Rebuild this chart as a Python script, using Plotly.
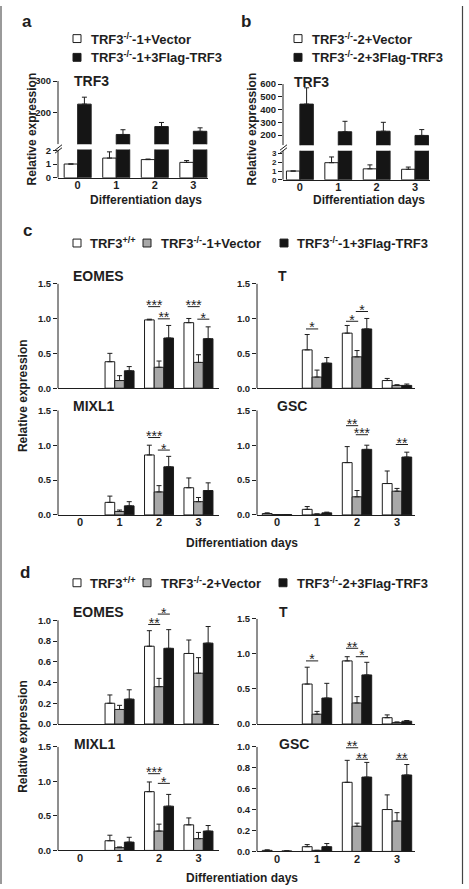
import plotly.graph_objects as go

W, H = 469, 889
FONT = "Liberation Sans"
INK = "#1e1e1e"
GRAY = "#a8a8a8"
BLACK = "#151515"

days = [0, 1, 2, 3]
day_labels = ["0", "1", "2", "3"]

# ---------------- panel a (TRF3, clone 1) ----------------
a_vector = [1.0, 1.43, 1.32, 1.12]
a_vector_err = [0.0, 0.45, 0.04, 0.13]
a_flag = [227, 131, 156, 141]
a_flag_err = [22, 15, 13, 11]

# ---------------- panel b (TRF3, clone 2) ----------------
b_vector = [1.0, 1.95, 1.25, 1.2]
b_vector_err = [0.0, 0.65, 0.45, 0.25]
b_flag = [443, 226, 230, 197]
b_flag_err = [128, 82, 70, 46]

# ---------------- panel c (clone 1) ----------------
c_eomes_wt = [None, 0.38, 0.98, 0.94]
c_eomes_wt_err = [0, 0.12, 0.01, 0.06]
c_eomes_vec = [None, 0.11, 0.30, 0.37]
c_eomes_vec_err = [0, 0.07, 0.09, 0.11]
c_eomes_flag = [None, 0.25, 0.72, 0.71]
c_eomes_flag_err = [0, 0.06, 0.18, 0.17]
c_eomes_sig = [(2, 0, "***", 1.17), (2, 1, "**", 0.995), (3, 0, "***", 1.17), (3, 1, "*", 0.99)]

c_t_wt = [None, 0.55, 0.79, 0.11]
c_t_wt_err = [0, 0.22, 0.11, 0.03]
c_t_vec = [None, 0.16, 0.45, 0.04]
c_t_vec_err = [0, 0.10, 0.09, 0.01]
c_t_flag = [None, 0.36, 0.85, 0.04]
c_t_flag_err = [0, 0.08, 0.15, 0.02]
c_t_sig = [(1, 0, "*", 0.85), (2, 0, "*", 0.96), (2, 1, "*", 1.10)]

c_mixl1_wt = [None, 0.18, 0.86, 0.39]
c_mixl1_wt_err = [0, 0.09, 0.14, 0.14]
c_mixl1_vec = [None, 0.05, 0.33, 0.19]
c_mixl1_vec_err = [0, 0.02, 0.09, 0.06]
c_mixl1_flag = [None, 0.13, 0.69, 0.35]
c_mixl1_flag_err = [0, 0.06, 0.15, 0.11]
c_mixl1_sig = [(2, 0, "***", 1.11), (2, 1, "*", 0.93)]

c_gsc_wt = [0.02, 0.08, 0.75, 0.45]
c_gsc_wt_err = [0.01, 0.04, 0.23, 0.18]
c_gsc_vec = [0.005, 0.01, 0.26, 0.34]
c_gsc_vec_err = [0, 0.005, 0.09, 0.04]
c_gsc_flag = [0.005, 0.03, 0.94, 0.83]
c_gsc_flag_err = [0, 0.01, 0.06, 0.07]
c_gsc_sig = [(2, 0, "**", 1.28), (2, 1, "***", 1.15), (3, 1, "**", 1.01)]

# ---------------- panel d (clone 2) ----------------
d_eomes_wt = [None, 0.20, 0.75, 0.68]
d_eomes_wt_err = [0, 0.08, 0.15, 0.13]
d_eomes_vec = [None, 0.14, 0.36, 0.49]
d_eomes_vec_err = [0, 0.04, 0.08, 0.15]
d_eomes_flag = [None, 0.24, 0.73, 0.78]
d_eomes_flag_err = [0, 0.09, 0.18, 0.16]
d_eomes_sig = [(2, 0, "**", 0.96), (2, 1, "*", 1.06)]

d_t_wt = [None, 0.57, 0.90, 0.09]
d_t_wt_err = [0, 0.24, 0.06, 0.04]
d_t_vec = [None, 0.14, 0.30, 0.02]
d_t_vec_err = [0, 0.04, 0.09, 0.01]
d_t_flag = [None, 0.37, 0.70, 0.04]
d_t_flag_err = [0, 0.21, 0.18, 0.01]
d_t_sig = [(1, 0, "*", 0.90), (2, 0, "**", 1.08), (2, 1, "*", 0.96)]

d_mixl1_wt = [None, 0.14, 0.85, 0.37]
d_mixl1_wt_err = [0, 0.08, 0.14, 0.10]
d_mixl1_vec = [None, 0.04, 0.28, 0.17]
d_mixl1_vec_err = [0, 0.01, 0.10, 0.09]
d_mixl1_flag = [None, 0.12, 0.64, 0.28]
d_mixl1_flag_err = [0, 0.07, 0.17, 0.08]
d_mixl1_sig = [(2, 0, "***", 1.11), (2, 1, "*", 0.97)]

d_gsc_wt = [0.01, 0.045, 0.66, 0.40]
d_gsc_wt_err = [0.005, 0.02, 0.21, 0.14]
d_gsc_vec = [None, 0.01, 0.24, 0.29]
d_gsc_vec_err = [0, 0, 0.03, 0.08]
d_gsc_flag = [0.005, 0.045, 0.71, 0.73]
d_gsc_flag_err = [0, 0.03, 0.14, 0.10]
d_gsc_sig = [(2, 0, "**", 0.99), (2, 1, "**", 0.88), (3, 1, "**", 0.88)]

legend_a = ["TRF3<sup>-/-</sup>-1+Vector", "TRF3<sup>-/-</sup>-1+3Flag-TRF3"]
legend_b = ["TRF3<sup>-/-</sup>-2+Vector", "TRF3<sup>-/-</sup>-2+3Flag-TRF3"]
legend_c = ["TRF3<sup>+/+</sup>", "TRF3<sup>-/-</sup>-1+Vector", "TRF3<sup>-/-</sup>-1+3Flag-TRF3"]
legend_d = ["TRF3<sup>+/+</sup>", "TRF3<sup>-/-</sup>-2+Vector", "TRF3<sup>-/-</sup>-2+3Flag-TRF3"]
gene_titles = ["EOMES", "T", "MIXL1", "GSC"]
x_title = "Differentiation days"
y_title = "Relative expression"

# ---------------------------------------------------------------
fig = go.Figure()
layout = {}
shapes = []
annotations = []


def ids(n):
    return ("x" if n == 1 else f"x{n}"), ("y" if n == 1 else f"y{n}")


def add_axes(n, xl, xr, xrange, zero_px, ppu, yr, ytop, tickvals, tickfmt,
             xvisible=True, xlabels=False, yfont=9.5):
    xid, yid = ids(n)
    top_px = zero_px - (yr[1] - yr[0]) * ppu
    layout["xaxis" if n == 1 else f"xaxis{n}"] = dict(
        domain=[xl / W, xr / W], range=xrange, anchor=yid, visible=xvisible,
        showline=True, linecolor=INK, linewidth=1, ticks="", showgrid=False,
        zeroline=False, tickmode="array", tickvals=days, ticktext=day_labels,
        showticklabels=xlabels, fixedrange=True, ticklabelstandoff=-3,
        tickfont=dict(family=FONT, size=11, color=INK, weight="bold"))
    layout["yaxis" if n == 1 else f"yaxis{n}"] = dict(
        domain=[1 - zero_px / H, 1 - top_px / H], range=yr, anchor=xid,
        showline=False, ticks="outside", ticklen=4, tickwidth=1, tickcolor=INK,
        tickmode="array", tickvals=tickvals, tickformat=tickfmt,
        showgrid=False, zeroline=False, fixedrange=True,
        tickfont=dict(family=FONT, size=yfont, color=INK, weight="bold"))
    shapes.append(dict(type="line", xref=f"{xid} domain", yref=yid, x0=0, x1=0,
                       y0=yr[0], y1=ytop, line=dict(color=INK, width=1)))


def add_bar(n, vals, errs, color, width, offset):
    xid, yid = ids(n)
    fig.add_trace(go.Bar(
        x=days, y=vals, width=width, offset=offset, xaxis=xid, yaxis=yid,
        marker=dict(color=color, line=dict(color=INK, width=1)),
        error_y=dict(type="data", symmetric=False, array=errs,
                     arrayminus=[0] * len(errs), color=INK, thickness=1, width=2.5),
        showlegend=False, hoverinfo="skip"))


def add_sig(n, marks, w):
    xid, yid = ids(n)
    centers = [-w, 0, w]
    for day, pair, label, h in marks:
        x0 = day + centers[pair] - 0.03
        x1 = day + centers[pair + 1] + 0.03
        fig.add_trace(go.Scatter(x=[x0, x1], y=[h, h], mode="lines", xaxis=xid, yaxis=yid,
                                 line=dict(color=INK, width=1), cliponaxis=False,
                                 showlegend=False, hoverinfo="skip"))
        fig.add_trace(go.Scatter(x=[(x0 + x1) / 2], y=[h], mode="text", text=[label],
                                 textposition="middle center", xaxis=xid, yaxis=yid,
                                 textfont=dict(family=FONT, size=14, color=INK),
                                 cliponaxis=False, showlegend=False, hoverinfo="skip"))


def text(x, y, s, size, anchor="left", angle=0, bold=True):
    annotations.append(dict(xref="paper", yref="paper", x=x / W, y=1 - y / H, text=s,
                            showarrow=False, xanchor=anchor, yanchor="middle", textangle=angle,
                            font=dict(family=FONT, size=size, color=INK,
                                      weight="bold" if bold else "normal")))


def legend(items, y):
    for sx, tx, color, label in items:
        shapes.append(dict(type="rect", xref="paper", yref="paper", x0=sx / W, x1=(sx + 8) / W,
                           y0=1 - (y + 4) / H, y1=1 - (y - 4) / H, fillcolor=color,
                           line=dict(color=INK, width=1)))
        text(tx, y, label, 13)


def pxline(x0, y0, x1, y1, color=INK, width=1):
    shapes.append(dict(type="line", xref="paper", yref="paper", x0=x0 / W, x1=x1 / W,
                       y0=1 - y0 / H, y1=1 - y1 / H, line=dict(color=color, width=width)))


# ---------------- panels a & b (broken axes) ----------------
w2 = 0.35
add_axes(1, 58, 208, [-0.51, 3.38], 140, 0.32, [100, 300], 300, [200, 300], "d", xvisible=False)
add_axes(2, 58, 208, [-0.51, 3.38], 174, 14, [0, 2.05], 2.05, [0, 1, 2], "d", xlabels=True)
add_axes(3, 283, 430, [-0.44, 3.39], 141, 0.129, [120, 600], 600, [200, 300, 400, 500, 600], "d", xvisible=False)
add_axes(4, 283, 430, [-0.44, 3.39], 176, 8.9, [0, 3.3], 3.3, [0, 1, 2, 3], "d", xlabels=True, yfont=8)
for n in (1, 2):
    add_bar(n, a_vector, a_vector_err, "white", w2, -w2)
    add_bar(n, a_flag, a_flag_err, BLACK, w2, 0)
for n in (3, 4):
    add_bar(n, b_vector, b_vector_err, "white", w2, -w2)
    add_bar(n, b_flag, b_flag_err, BLACK, w2, 0)

# axis break marks
for bx in (58, 283):
    pxline(bx - 3, 146, bx + 4, 140.5)
    pxline(bx - 3, 149, bx + 4, 143.5)

# ---------------- panels c & d ----------------
w3 = 0.245
LX, RX = (58, 219, [-0.56, 3.52]), (257, 415, [-0.5, 3.45])
tick15 = [0, 0.5, 1.0, 1.5]
tick10 = [0, 0.2, 0.4, 0.6, 0.8, 1.0]
grid = [
    (5, LX, 387, 70.6, [0, 1.5], 1.5, tick15, False,
     (c_eomes_wt, c_eomes_wt_err, c_eomes_vec, c_eomes_vec_err, c_eomes_flag, c_eomes_flag_err), c_eomes_sig),
    (6, RX, 387, 70.6, [0, 1.5], 1.5, tick15, False,
     (c_t_wt, c_t_wt_err, c_t_vec, c_t_vec_err, c_t_flag, c_t_flag_err), c_t_sig),
    (7, LX, 515.3, 70.6, [0, 1.5], 1.5, tick15, True,
     (c_mixl1_wt, c_mixl1_wt_err, c_mixl1_vec, c_mixl1_vec_err, c_mixl1_flag, c_mixl1_flag_err), c_mixl1_sig),
    (8, RX, 515.3, 70.6, [0, 1.5], 1.5, tick15, True,
     (c_gsc_wt, c_gsc_wt_err, c_gsc_vec, c_gsc_vec_err, c_gsc_flag, c_gsc_flag_err), c_gsc_sig),
    (9, LX, 727, 105, [0, 1.1], 1.0, tick10, False,
     (d_eomes_wt, d_eomes_wt_err, d_eomes_vec, d_eomes_vec_err, d_eomes_flag, d_eomes_flag_err), d_eomes_sig),
    (10, RX, 727, 71, [0, 1.5], 1.5, tick15, False,
     (d_t_wt, d_t_wt_err, d_t_vec, d_t_vec_err, d_t_flag, d_t_flag_err), d_t_sig),
    (11, LX, 855, 70, [0, 1.5], 1.5, tick15, True,
     (d_mixl1_wt, d_mixl1_wt_err, d_mixl1_vec, d_mixl1_vec_err, d_mixl1_flag, d_mixl1_flag_err), d_mixl1_sig),
    (12, RX, 856, 106, [0, 1.0], 1.0, tick10, True,
     (d_gsc_wt, d_gsc_wt_err, d_gsc_vec, d_gsc_vec_err, d_gsc_flag, d_gsc_flag_err), d_gsc_sig),
]
for n, side, zpx, ppu, yr, ytop, tv, xl, data, sig in grid:
    add_axes(n, side[0], side[1], side[2], zpx, ppu, yr, ytop, tv, ".1f", xlabels=xl)
    wt, wte, vec, vece, fl, fle = data
    add_bar(n, wt, wte, "white", w3, -1.5 * w3)
    add_bar(n, vec, vece, GRAY, w3, -0.5 * w3)
    add_bar(n, fl, fle, BLACK, w3, 0.5 * w3)
    add_sig(n, sig, w3)

# ---------------- text ----------------
text(20, 16, "a", 17)
text(239, 16, "b", 17)
text(21, 227, "c", 17)
text(18, 574, "d", 17)

legend([(73, 89, "white", legend_a[0])], 33)
legend([(73, 89, BLACK, legend_a[1])], 52)
legend([(294, 310, "white", legend_b[0])], 33)
legend([(294, 310, BLACK, legend_b[1])], 52)
legend([(73, 88, "white", legend_c[0]), (143, 159, GRAY, legend_c[1]), (280, 295, BLACK, legend_c[2])], 240)
legend([(73, 88, "white", legend_d[0]), (143, 159, GRAY, legend_d[1]), (279, 295, BLACK, legend_d[2])], 584)

text(72, 76, "TRF3", 14)
text(292, 77, "TRF3", 14)
for (gx, gy), g in zip([(71, 273), (276, 273), (71, 405), (275, 405)], gene_titles):
    text(gx, gy, g, 14)
for (gx, gy), g in zip([(71, 614), (277, 614), (72, 747), (277, 747)], gene_titles):
    text(gx, gy, g, 14)

text(146, 196, x_title, 12, anchor="center")
text(369, 196, x_title, 12, anchor="center")
text(242, 544, x_title, 12, anchor="center")
text(242, 883, x_title, 12, anchor="center")

text(32, 125, y_title, 12, anchor="center", angle=-90)
text(252, 125, y_title, 12, anchor="center", angle=-90)
text(23, 395, y_title, 12, anchor="center", angle=-90)
text(23, 740, y_title, 12, anchor="center", angle=-90)

# frame
pxline(1, 0, 1, H, color="#9a9a9a", width=2)
pxline(462.5, 0, 462.5, H, color="#444444", width=1.2)

fig.update_layout(
    width=W, height=H, margin=dict(l=0, r=0, t=0, b=0),
    paper_bgcolor="white", plot_bgcolor="rgba(0,0,0,0)",
    barmode="overlay", showlegend=False, hovermode=False,
    shapes=shapes, annotations=annotations, **layout)

fig.write_html("out.html")
